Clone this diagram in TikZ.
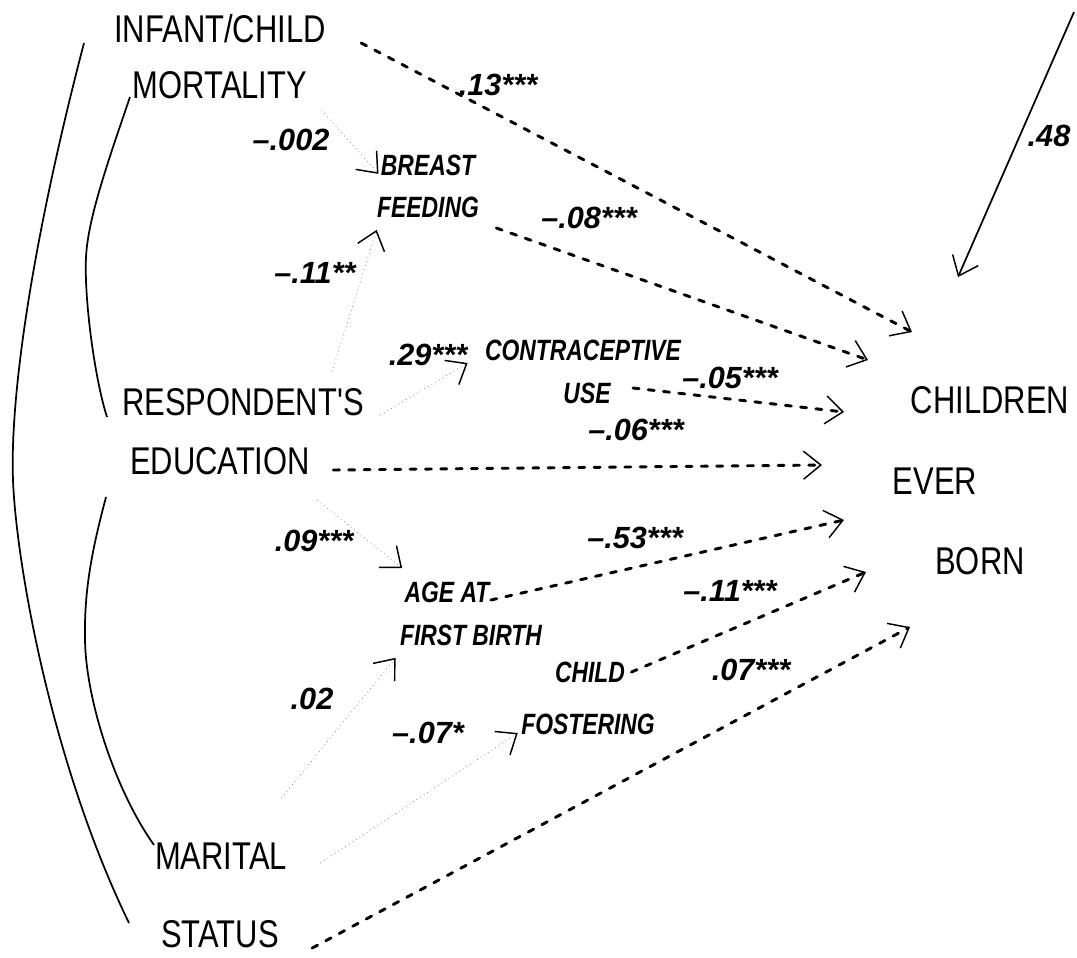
\documentclass[tikz,border=0pt]{standalone}
\usepackage{fontspec}
\setmainfont{Liberation Sans}
\newfontfamily\namefont[FakeStretch=0.8]{Liberation Sans}
\newfontfamily\itfont[FakeStretch=0.78]{Liberation Sans}
\usetikzlibrary{arrows.meta,calc}

\tikzset{every picture/.style={line width=0.75pt}}
\tikzset{
  varname/.style={inner sep=0.75pt, font=\namefont\fontsize{29}{32}\selectfont},
  midvar/.style={inner sep=0.75pt, font=\itfont\fontsize{22}{25}\selectfont\bfseries\itshape},
  coef/.style={inner sep=0.75pt, font=\fontsize{23}{26}\selectfont\bfseries\itshape},
  openhead/.tip={Straight Barb[length=13pt,width=21pt,line width=1.1pt,color=black]},
  direct/.style={line width=2.2pt, line cap=round, dash pattern=on 4.5pt off 7pt, -openhead},
  indirect/.style={draw=black!45, line width=0.6pt, dash pattern=on 0.6pt off 2.6pt, -openhead},
  corr/.style={line width=1.3pt},
}

\begin{document}
\begin{tikzpicture}[x=0.75pt,y=0.75pt,yscale=-1,xscale=1]
\useasboundingbox (0,0) rectangle (1077,957);

% exogenous variables
\draw (220,29) node [varname] (imr1) {INFANT/CHILD};
\draw (220,85) node [varname] (imr2) {MORTALITY};
\draw (243,402) node [varname] (edu1) {RESPONDENT'S};
\draw (220,461) node [varname] (edu2) {EDUCATION};
\draw (221,856) node [varname] (mar1) {MARITAL};
\draw (220,934) node [varname] (mar2) {STATUS};
% outcome
\draw (990,400) node [varname] (ceb1) {CHILDREN};
\draw (935,481) node [varname] (ceb2) {EVER};
\draw (980,561) node [varname] (ceb3) {BORN};
% intermediate variables
\draw (428,165) node [midvar] (bf1) {BREAST};
\draw (428,207) node [midvar] (bf2) {FEEDING};
\draw (583,350) node [midvar] (cu1) {CONTRACEPTIVE};
\draw (587,393) node [midvar] (cu2) {USE};
\draw (447,592) node [midvar] (afb1) {AGE AT};
\draw (471,635) node [midvar] (afb2) {FIRST BIRTH};
\draw (590,672) node [midvar] (cf1) {CHILD};
\draw (588,724) node [midvar] (cf2) {FOSTERING};

% coefficients
\draw (498,85) node [coef] (k1) {.13***};
\draw (291,140) node [coef] (k2) {–.002};
\draw (589,218) node [coef] (k3) {–.08***};
\draw (315,273) node [coef] (k4) {–.11**};
\draw (1049,136) node [coef] (k5) {.48};
\draw (428,355) node [coef] (k6) {.29***};
\draw (730,378) node [coef] (k7) {–.05***};
\draw (636,430) node [coef] (k8) {–.06***};
\draw (314,541) node [coef] (k9) {.09***};
\draw (635,538) node [coef] (k10) {–.53***};
\draw (730,591) node [coef] (k11) {–.11***};
\draw (751,670) node [coef] (k12) {.07***};
\draw (312,699) node [coef] (k13) {.02};
\draw (428,733) node [coef] (k14) {–.07*};

% free ends next to children ever born
\coordinate (ta) at (912,332);
\coordinate (tb) at (868,360);
\coordinate (tc) at (844,412);
\coordinate (td) at (822,465);
\coordinate (te) at (844,520);
\coordinate (tf) at (866,572);
\coordinate (tg) at (910,627);
\coordinate (res1) at (1074,12);
\coordinate (res2) at (958,277);

% direct effects
\draw [direct] ($(imr1.east)+(34,14)$) -- (ta);
\draw [direct] ($(bf2.east)+(16,21)$) -- (tb);
\draw [direct] ($(cu2.east)+(21,-5)$) -- (tc);
\draw [direct] ($(edu2.east)+(22,9)$) -- (td);
\draw [direct] ($(afb1.east)+(0,8)$) -- (te);
\draw [direct] ($(cf1.east)+(5,0)$) -- (tf);
\draw [direct] ($(mar2.east)+(32,14)$) -- (tg);
\draw [line width=1.3pt, -openhead] (res1) -- (res2);

% paths to intermediate variables
\draw [indirect] ($(imr2.south east)+(13,10)$) -- ($(bf1.south west)+(-1,-3)$);
\draw [indirect] ($(edu1.north)+(89,-15)$) -- ($(bf2.south west)+(1,11)$);
\draw [indirect] ($(edu1.east)+(15,13)$) -- ($(cu1.west)+(-16,13)$);
\draw [indirect] ($(edu2.south east)+(6,24)$) -- ($(afb1.north west)+(-1,-12)$);
\draw [indirect] ($(mar1.north east)+(-7,-43)$) -- ($(afb2.south west)+(-3,11)$);
\draw [indirect] ($(mar1.east)+(32,7)$) -- ($(cf2.west)+(-2,9)$);

% correlations
\draw [corr] (84,43) .. controls (30,250) and (10,400) .. (13,480) .. controls (16,560) and (50,760) .. (129,923);
\draw [corr] (130,97) .. controls (105,170) and (88,220) .. (86,257) .. controls (84,300) and (95,380) .. (107,417);
\draw [corr] (106,497) .. controls (92,550) and (84,590) .. (85,640) .. controls (86,700) and (115,790) .. (154,845);
\end{tikzpicture}
\end{document}
